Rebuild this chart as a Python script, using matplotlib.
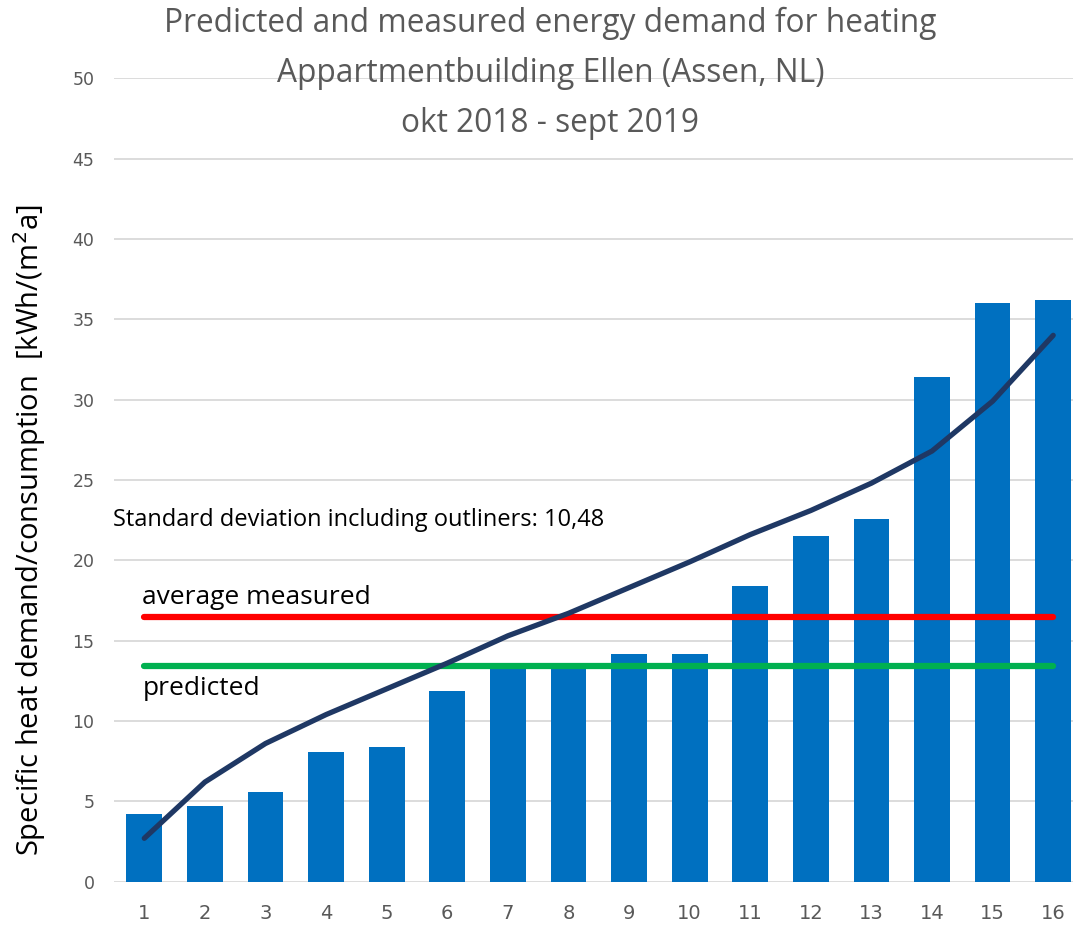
import numpy as np
import matplotlib
matplotlib.use("Agg")
import matplotlib.pyplot as plt

# measured values per building unit, sorted
units = list(range(1, 17))
measured = [4.2, 4.7, 5.6, 8.1, 8.4, 11.85, 13.4, 13.4, 14.2, 14.2, 18.4, 21.5, 22.6, 31.4, 36.0, 36.2]
# trend curve
trend = [2.7, 6.2, 8.6, 10.4, 12.0, 13.6, 15.3, 16.7, 18.3, 19.9, 21.6, 23.1, 24.8, 26.8, 29.9, 34.0]
avg_measured = 16.5
predicted = 13.4

title_lines = ["Predicted and measured energy demand for heating",
               "Appartmentbuilding Ellen (Assen, NL)",
               "okt 2018 - sept 2019"]

fig = plt.figure(figsize=(10.73, 9.26), dpi=100)
ax = fig.add_axes([114 / 1073, (926 - 881.7) / 926, 969.5 / 1073, 803.5 / 926])

ax.bar(units, measured, width=0.59, color="#0070C0", zorder=2)
ax.plot([units[0], units[-1]], [avg_measured] * 2, color="#FF0000", lw=4.5,
        solid_capstyle="round", zorder=3)
ax.plot([units[0], units[-1]], [predicted] * 2, color="#00B050", lw=4.5,
        solid_capstyle="round", zorder=3)
ax.plot(units, trend, color="#1F3864", lw=3.8, solid_capstyle="round",
        solid_joinstyle="round", zorder=4)

ax.set_xlim(0.5, 16.5)
ax.set_ylim(0, 50)
ax.set_yticks(range(0, 51, 5))
ax.set_xticks(units)
ax.grid(axis="y", color="#D9D9D9", lw=1.3, zorder=0)
for s in ax.spines.values():
    s.set_visible(False)
ax.tick_params(length=0)
ax.tick_params(axis="y", pad=14, labelsize=12.5, labelcolor="#595959")
ax.tick_params(axis="x", pad=16, labelsize=14, labelcolor="#595959")

ax.set_ylabel("Specific heat demand/consumption  [kWh/(m$^2$a]", fontsize=21,
              family="Open Sans", va="center")
ax.yaxis.set_label_coords(-0.087, 0.438)

ax.text(0.48, 22.5, "Standard deviation including outliners: 10,48", fontsize=17,
        family="Open Sans", va="center", ha="left")
ax.text(0.97, 17.7, "average measured", fontsize=19, family="Open Sans",
        va="center", ha="left")
ax.text(0.97, 12.05, "predicted", fontsize=19, family="Open Sans",
        va="center", ha="left")

for i, line in enumerate(title_lines):
    fig.text(0.513, 1 - (23 + 50 * i) / 926, line, ha="center", va="center",
             fontsize=22.8, color="#595959", family="Open Sans")

fig.savefig("out.png", dpi=100)
